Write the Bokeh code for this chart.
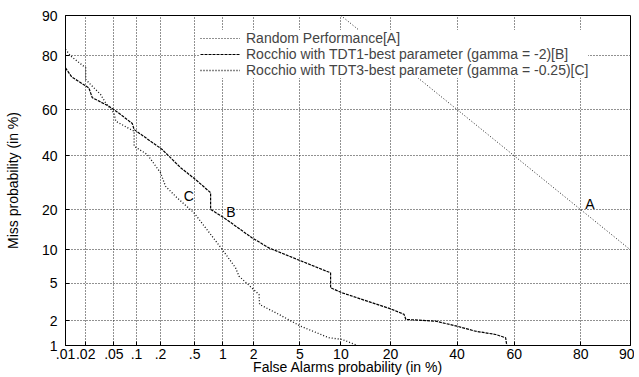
from statistics import NormalDist
from bokeh.plotting import figure
from bokeh.models import Range1d, FixedTicker, Legend, LegendItem, Label
from bokeh.embed import file_html
from bokeh.resources import INLINE

_nd = NormalDist()


def probit(pct):
    return round(_nd.inv_cdf(pct / 100.0), 6)


# ---- tick values / labels (percent) ----
x_tick_vals = [0.01, 0.02, 0.05, 0.1, 0.2, 0.5, 1, 2, 5, 10, 20, 40, 60, 80, 90]
x_tick_labels = [".01", ".02", ".05", ".1", ".2", ".5", "1", "2", "5", "10", "20", "40", "60", "80", "90"]
y_tick_vals = [1, 2, 5, 10, 20, 40, 60, 80, 90]
y_tick_labels = ["1", "2", "5", "10", "20", "40", "60", "80", "90"]

# ---- series (percent) ----
rand_fa = [10, 20, 40, 60, 80, 90]
rand_miss = [90, 80, 60, 40, 20, 10]

b_fa = [0.01, 0.0124, 0.0222, 0.0249, 0.0427, 0.0617, 0.088, 0.093, 0.21, 0.347,
        0.513, 0.745, 0.745, 1.03, 1.94, 2.75, 4.77, 8.49, 8.49, 10.2, 20.0, 23.5,
        24.0, 32.9, 40.0, 46.4, 53.5, 57.0, 57.4]
b_miss = [76.1, 72.9, 68.8, 64.9, 61.4, 57.9, 54.0, 51.4, 42.7, 35.1,
          30.4, 25.6, 20.1, 17.6, 12.5, 10.4, 8.29, 6.28, 4.50, 4.0, 2.71, 2.35,
          2.06, 1.97, 1.72, 1.50, 1.37, 1.25, 1.0]

c_fa = [0.01, 0.012, 0.02, 0.02, 0.0235, 0.0327, 0.0384, 0.050, 0.053, 0.084,
        0.093, 0.093, 0.137, 0.20, 0.23, 0.314, 0.49, 0.985, 1.34, 1.45, 2.24,
        2.27, 3.36, 5.07, 8.26, 10.2, 12.8]
c_miss = [81.9, 79.9, 76.1, 72.0, 70.1, 66.2, 62.8, 58.6, 55.0, 51.4,
          50.7, 44.1, 40.6, 33.1, 27.9, 23.9, 19.1, 10.1, 7.0, 5.84, 3.85,
          3.02, 2.35, 1.72, 1.25, 1.19, 1.0]

series_names = ["Random Performance[A]",
                "Rocchio with TDT1-best parameter (gamma = -2)[B]",
                "Rocchio with TDT3-best parameter (gamma = -0.25)[C]"]

# curve tags: text, FA %, Miss %
tag_text = ["A", "B", "C"]
tag_fa = [82.2, 1.21, 0.43]
tag_miss = [21.9, 19.2, 24.3]

FONT = "Liberation Sans"

p = figure(frame_width=565, frame_height=330, output_backend="svg", toolbar_location=None,
           x_range=Range1d(probit(0.01), probit(90)), y_range=Range1d(probit(1), probit(90)),
           min_border_left=65, min_border_right=4, min_border_top=15, min_border_bottom=24)
p.background_fill_color = "white"
p.border_fill_color = "white"
p.outline_line_color = "black"
p.outline_line_width = 1

xt = [probit(v) for v in x_tick_vals]
yt = [probit(v) for v in y_tick_vals]
p.xaxis.ticker = FixedTicker(ticks=xt)
p.yaxis.ticker = FixedTicker(ticks=yt)
p.xaxis.major_label_overrides = {t: l for t, l in zip(xt, x_tick_labels)}
p.yaxis.major_label_overrides = {t: l for t, l in zip(yt, y_tick_labels)}

for ax in (p.xaxis[0], p.yaxis[0]):
    ax.axis_line_color = "black"
    ax.major_tick_in = 4
    ax.major_tick_out = 0
    ax.minor_tick_line_color = None
    ax.major_label_text_font = FONT
    ax.major_label_text_font_size = "14px"
    ax.major_label_text_color = "black"
    ax.axis_label_text_font = FONT
    ax.axis_label_text_font_size = "14px"
    ax.axis_label_text_font_style = "normal"
    ax.axis_label_text_color = "black"

p.xaxis.axis_label = "False Alarms probability (in %)"
p.yaxis.axis_label = "Miss probability (in %)"
p.xaxis.major_label_standoff = 3
p.xaxis.axis_label_standoff = -3
p.yaxis.major_label_standoff = 8
p.yaxis.axis_label_standoff = 18

for g in (p.xgrid[0], p.ygrid[0]):
    g.grid_line_color = "#222222"
    g.grid_line_dash = "1 2"
    g.grid_line_width = 1

ra = p.line([probit(v) for v in rand_fa], [probit(v) for v in rand_miss],
            line_color="#222222", line_dash="1 2", line_width=1)
rb = p.line([probit(v) for v in b_fa], [probit(v) for v in b_miss],
            line_color="black", line_dash="3 1", line_width=1.2)
rc = p.line([probit(v) for v in c_fa], [probit(v) for v in c_miss],
            line_color="#111111", line_dash="1 2", line_width=1.3)

legend = Legend(items=[LegendItem(label=series_names[0], renderers=[ra]),
                       LegendItem(label=series_names[1], renderers=[rb]),
                       LegendItem(label=series_names[2], renderers=[rc])],
                location=(135, 267), border_line_color=None,
                background_fill_color="white", background_fill_alpha=1.0,
                label_text_font=FONT, label_text_font_size="14px",
                glyph_width=40, glyph_height=12, label_height=12,
                label_standoff=6, spacing=0, padding=2, margin=0)
p.add_layout(legend)

for t, fx, my in zip(tag_text, tag_fa, tag_miss):
    p.add_layout(Label(x=probit(fx), y=probit(my), text=t, text_align="center",
                       text_baseline="middle", text_font=FONT, text_font_size="14px",
                       text_color="black"))

open("out.html", "w").write(file_html(p, INLINE))
